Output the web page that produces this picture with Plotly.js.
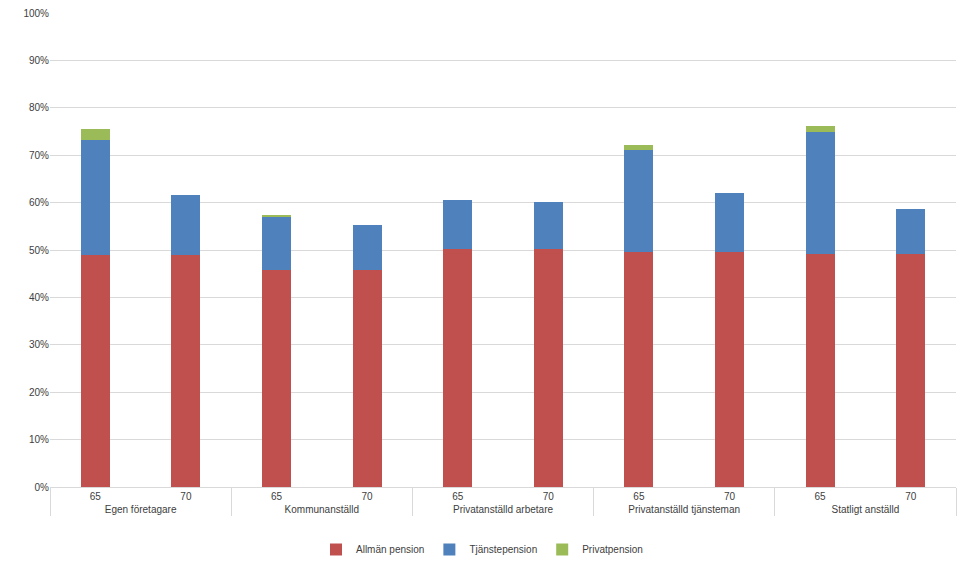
<!DOCTYPE html>
<html><head><meta charset="utf-8">
<script src="https://cdn.plot.ly/plotly-3.0.1.min.js"></script>
<style>body{margin:0;background:#fff}</style>
</head><body><div id="c" style="width:964px;height:564px"></div>
<script>
const groups = ["Egen företagare","Egen företagare","Kommunanställd","Kommunanställd","Privatanställd arbetare","Privatanställd arbetare","Privatanställd tjänsteman","Privatanställd tjänsteman","Statligt anställd","Statligt anställd"];
const ages = ["65","70","65","70","65","70","65","70","65","70"];
const allman = [0.49,0.49,0.458,0.458,0.502,0.502,0.495,0.495,0.492,0.492];
const tjanste = [0.243,0.126,0.112,0.095,0.104,0.099,0.217,0.126,0.256,0.095];
const privat = [0.022,0,0.003,0,0,0,0.01,0,0.013,0];
const x=[groups,ages];
const mk=(n,y,c)=>({type:'bar',name:n,x:x,y:y,marker:{color:c},hoverinfo:'y'});
Plotly.newPlot('c',[mk('Allmän pension',allman,'#C0504D'),mk('Tjänstepension',tjanste,'#4F81BD'),mk('Privatpension',privat,'#9BBB59')],{
 barmode:'stack',bargap:0.68,
 width:964,height:564,margin:{l:50,r:8,t:13,b:77,autoexpand:false},
 font:{family:'Liberation Sans, Arial',size:10,color:'#404040'},
 yaxis:{range:[0,1],dtick:0.1,tickformat:'.0%',gridcolor:'#d9d9d9',zeroline:false,ticks:'',automargin:false},
 xaxis:{automargin:false,showdividers:true,dividercolor:'#d9d9d9',showline:true,linecolor:'#d9d9d9',ticks:'outside',tickcolor:'#d9d9d9',ticklen:0},
 legend:{orientation:'h',traceorder:'normal',x:0.5,xanchor:'center',xref:'container',y:0,yref:'container',yanchor:'bottom',font:{size:10}},
 showlegend:true
},{displayModeBar:false});
</script></body></html>
